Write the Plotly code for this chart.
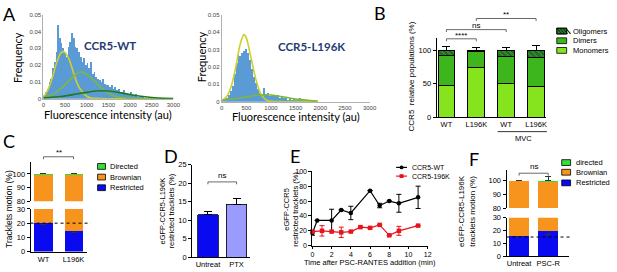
import plotly.graph_objects as go

W, H = 617, 272

# ---------------- DATA ----------------
# Panel A : histograms (bin width 40 au, first bin starts at 0) and fitted components
BIN_W = 40
wt_freq = [0.002, 0.004, 0.006, 0.010, 0.012, 0.018, 0.022, 0.028, 0.044, 0.036,
           0.033, 0.030, 0.027, 0.025, 0.031, 0.034, 0.039, 0.036, 0.031, 0.030,
           0.028, 0.025, 0.022, 0.024, 0.020, 0.021, 0.018, 0.022, 0.015, 0.016,
           0.013, 0.012, 0.011, 0.010, 0.012, 0.009, 0.008, 0.008, 0.007, 0.008,
           0.006, 0.007, 0.005, 0.006, 0.004, 0.004, 0.005, 0.003, 0.003, 0.003,
           0.004, 0.002, 0.002, 0.003, 0.001, 0.001, 0.001, 0.001, 0.0005, 0.0005]
l196k_freq = [0.001, 0.002, 0.002, 0.004, 0.006, 0.009, 0.016, 0.022, 0.027, 0.026,
              0.028, 0.029, 0.030, 0.028, 0.024, 0.019, 0.014, 0.011, 0.007, 0.005,
              0.004, 0.008, 0.004, 0.005, 0.003, 0.004, 0.003, 0.003, 0.004, 0.002,
              0.003, 0.002, 0.002, 0.001, 0.002, 0.001, 0.002, 0.001, 0.001, 0.002,
              0.001, 0.001, 0.001, 0.001, 0.001, 0.001, 0.001, 0.0005]

wt_fit1_x = [0, 100, 200, 300, 400, 450, 500, 600, 700, 800, 900, 1000, 1100, 1200, 1500, 2000, 2500, 3000]
wt_fit1_y = [0.001, 0.005, 0.012, 0.021, 0.027, 0.028, 0.0275, 0.023, 0.015, 0.008, 0.004, 0.0015, 0.0005, 0.0002, 0, 0, 0, 0]
wt_fit2_x = [0, 200, 400, 600, 800, 860, 1000, 1200, 1400, 1600, 1800, 2000, 2500, 3000]
wt_fit2_y = [0.001, 0.0023, 0.006, 0.011, 0.0155, 0.016, 0.0145, 0.010, 0.005, 0.002, 0.0007, 0.0002, 0, 0]
wt_fit3_x = [0, 400, 800, 1000, 1200, 1330, 1500, 1800, 2000, 2200, 2500, 2800, 3000]
wt_fit3_y = [0.0005, 0.0013, 0.003, 0.0038, 0.0046, 0.0048, 0.0046, 0.0035, 0.0025, 0.0016, 0.0007, 0.0002, 0.0001]

l196k_fit1_x = [0, 100, 200, 300, 350, 400, 450, 500, 550, 600, 700, 800, 900, 1000, 1200, 1500, 1950]
l196k_fit1_y = [0.0005, 0.003, 0.0095, 0.022, 0.030, 0.0355, 0.0385, 0.0365, 0.031, 0.0245, 0.012, 0.004, 0.001, 0.0002, 0, 0, 0]
l196k_fit2_x = [0, 300, 600, 850, 1000, 1200, 1400, 1600, 1800, 1950]
l196k_fit2_y = [0.0008, 0.0018, 0.0032, 0.0040, 0.0038, 0.0030, 0.0020, 0.0012, 0.0006, 0.0003]

a_xticks = [0, 500, 1000, 1500, 2000, 2500, 3000]
a_yticks = [0, 0.01, 0.02, 0.03, 0.04, 0.05]
a_yticktext = ["0", "0.01", "0.02", "0.03", "0.04", "0.05"]

# Panel B : relative populations (%)
b_labels = ["WT", "L196K", "WT", "L196K"]
b_monomers = [48, 75, 51, 46]
b_monomers_err = [10, 6, 11, 12]
b_dimers = [44, 24, 40, 44]
b_oligomers = [8, 1, 9, 10]
b_total_err = [6, 5, 5, 8]

# Panel C : tracklets motion (%)
c_labels = ["WT", "L196K"]
c_restricted = [20, 14.5]
c_restricted_err = [1, 1]
c_brownian = [79.5, 85.0]
c_directed = [0.5, 0.5]
c_directed_err = [0.3, 0.3]

# Panel D : restricted tracklets (%)
d_labels = ["Untreat", "PTX"]
d_values = [11.5, 14.3]
d_err = [0.9, 1.5]

# Panel E : restricted tracklets over time
e_wt_t = [0, 0.5, 2, 3, 4, 6, 7, 8, 9, 11]
e_wt_v = [17, 34, 34, 48, 44, 74, 54, 60, 57, 65]
e_wt_err = [3, 0, 15, 0, 9, 0, 3, 0, 12, 15]
e_mut_t = [0, 1, 2, 3, 4, 5, 6, 7, 8, 9, 11]
e_mut_v = [19, 20, 19, 18, 19, 25, 24, 28, 14, 20, 27]
e_mut_err = [0, 7, 0, 7, 0, 0, 0, 0, 0, 6, 0]

# Panel F : eGFP-CCR5-L196K tracklets motion (%)
f_labels = ["Untreat", "PSC-R"]
f_restricted = [15.5, 20]
f_restricted_err = [0.5, 3]
f_brownian = [84.0, 79.3]
f_directed = [0.5, 0.7]
f_directed_err = [0.3, 3]

# ---------------- STYLE / LAYOUT HELPERS ----------------
ARIAL = "Liberation Sans"
CAL = "Lato"
C_HIST = "#5B9BD5"
C_YEL = "#CFCF2A"
C_LGR = "#7DB83A"
C_DGR = "#1F7A1F"
C_MONO = "#86E41E"
C_DIM = "#3DB51C"
C_OLIG = "#2E8B2E"
C_RES = "#0A0AF0"
C_BRO = "#F7941D"
C_DIR = "#35E035"
C_PTX = "#9B9BFF"

# pixel boxes: (left, right, top, bottom, xrange, yrange)
BOX = {
    "A1": (42, 174, 11, 98, (0, 3000), (0, 0.05)),
    "A2": (223, 373, 11, 101, (0, 3000), (0, 0.05)),
    "B": (441, 552, 35, 117, (-0.33, 3.33), (0, 119)),
    "CL": (29, 86, 212, 256, (-0.43, 1.44), (0, 30)),
    "CU": (29, 86, 163, 204, (-0.43, 1.44), (80, 109)),
    "D": (193, 252, 166, 262, (-0.55, 1.48), (0, 25)),
    "E": (315, 432, 173, 250, (0, 12), (0, 100)),
    "FL": (512, 575, 221, 261, (-0.43, 1.7), (0, 30)),
    "FU": (512, 575, 172, 211, (-0.43, 1.7), (80, 107.5)),
}


def px(x):
    return x / W


def py(y):
    return 1 - y / H


def xdata_px(box, v):
    l, r, t, b, (r0, r1), _ = BOX[box]
    return l + (v - r0) / (r1 - r0) * (r - l)


def ydata_px(box, v):
    l, r, t, b, _, (r0, r1) = BOX[box]
    return b - (v - r0) / (r1 - r0) * (b - t)


def xdom(box):
    l, r = BOX[box][0], BOX[box][1]
    return [px(l), px(r)]


def ydom(box):
    t, b = BOX[box][2], BOX[box][3]
    return [py(b), py(t)]


def prism_axis(**kw):
    d = dict(showline=True, linecolor="black", linewidth=1, ticks="outside", ticklen=3,
             tickwidth=1, tickcolor="black", showgrid=False, zeroline=False,
             tickfont=dict(family=ARIAL, size=7.5, color="black"), fixedrange=True)
    d.update(kw)
    return d


fig = go.Figure()

# ---- Panel A ----
wt_x = [BIN_W * i + BIN_W / 2 for i in range(len(wt_freq))]
mut_x = [BIN_W * i + BIN_W / 2 for i in range(len(l196k_freq))]
fig.add_trace(go.Bar(x=wt_x, y=wt_freq, width=BIN_W, marker=dict(color=C_HIST, line=dict(width=0)),
                     xaxis="x", yaxis="y"))
for xs, ys, col in [(wt_fit1_x, wt_fit1_y, C_YEL), (wt_fit2_x, wt_fit2_y, C_LGR), (wt_fit3_x, wt_fit3_y, C_DGR)]:
    fig.add_trace(go.Scatter(x=xs, y=ys, mode="lines", line=dict(color=col, width=1.6, shape="spline", smoothing=0.8),
                             xaxis="x", yaxis="y"))
fig.add_trace(go.Bar(x=mut_x, y=l196k_freq, width=BIN_W, marker=dict(color=C_HIST, line=dict(width=0)),
                     xaxis="x2", yaxis="y2"))
for xs, ys, col in [(l196k_fit1_x, l196k_fit1_y, C_YEL), (l196k_fit2_x, l196k_fit2_y, C_LGR)]:
    fig.add_trace(go.Scatter(x=xs, y=ys, mode="lines", line=dict(color=col, width=1.6, shape="spline", smoothing=0.8),
                             xaxis="x2", yaxis="y2"))

# ---- Panel B ----
bx = list(range(len(b_labels)))
BW = 0.56
fig.add_trace(go.Bar(x=bx, y=b_monomers, width=BW, xaxis="x3", yaxis="y3",
                     marker=dict(color=C_MONO, line=dict(color="black", width=1)),
                     error_y=dict(type="data", array=b_monomers_err, arrayminus=[0] * 4, symmetric=False,
                                  color="black", thickness=1, width=4)))
fig.add_trace(go.Bar(x=bx, y=b_dimers, width=BW, xaxis="x3", yaxis="y3",
                     marker=dict(color=C_DIM, line=dict(color="black", width=1))))
fig.add_trace(go.Bar(x=bx, y=b_oligomers, width=BW, xaxis="x3", yaxis="y3",
                     marker=dict(color=C_OLIG, line=dict(color="black", width=1),
                                 pattern=dict(shape="\\", fgcolor="#0B3B0B", bgcolor=C_OLIG, size=4, solidity=0.45)),
                     error_y=dict(type="data", array=b_total_err, arrayminus=[0] * 4, symmetric=False,
                                  color="black", thickness=1, width=4)))


# ---- Panel C & F (broken axes) ----
def tracklet_bars(xa, ya, res, res_err, bro, dire, dire_err, bw):
    xs = list(range(len(res)))
    fig.add_trace(go.Bar(x=xs, y=res, width=bw, xaxis=xa, yaxis=ya,
                         marker=dict(color=C_RES, line=dict(width=0)),
                         error_y=dict(type="data", array=res_err, color="#333", thickness=1, width=3)))
    fig.add_trace(go.Bar(x=xs, y=bro, width=bw, xaxis=xa, yaxis=ya,
                         marker=dict(color=C_BRO, line=dict(width=0))))
    fig.add_trace(go.Bar(x=xs, y=dire, width=bw, xaxis=xa, yaxis=ya,
                         marker=dict(color=C_DIR, line=dict(width=0)),
                         error_y=dict(type="data", array=dire_err, arrayminus=[0] * len(dire), symmetric=False,
                                      color="#333", thickness=1, width=3)))


tracklet_bars("x4", "y4", c_restricted, c_restricted_err, c_brownian, c_directed, c_directed_err, 0.6)
tracklet_bars("x5", "y5", c_restricted, c_restricted_err, c_brownian, c_directed, c_directed_err, 0.6)
tracklet_bars("x8", "y8", f_restricted, f_restricted_err, f_brownian, f_directed, f_directed_err, 0.7)
tracklet_bars("x9", "y9", f_restricted, f_restricted_err, f_brownian, f_directed, f_directed_err, 0.7)

# ---- Panel D ----
fig.add_trace(go.Bar(x=list(range(len(d_labels))), y=d_values, width=0.72, xaxis="x6", yaxis="y6",
                     marker=dict(color=[C_RES, C_PTX], line=dict(color="black", width=0.8)),
                     error_y=dict(type="data", array=d_err, arrayminus=[0, 0], symmetric=False,
                                  color="black", thickness=1, width=4)))

# ---- Panel E ----
fig.add_trace(go.Scatter(x=e_wt_t, y=e_wt_v, mode="lines+markers", xaxis="x7", yaxis="y7", cliponaxis=False,
                         line=dict(color="black", width=1.2), marker=dict(color="black", size=4.5, symbol="circle"),
                         error_y=dict(type="data", array=e_wt_err, color="black", thickness=1, width=2.5)))
fig.add_trace(go.Scatter(x=e_mut_t, y=e_mut_v, mode="lines+markers", xaxis="x7", yaxis="y7", cliponaxis=False,
                         line=dict(color="#E8141B", width=1.2), marker=dict(color="#E8141B", size=4.5, symbol="square"),
                         error_y=dict(type="data", array=e_mut_err, color="#E8141B", thickness=1, width=2.5)))

# ---------------- AXES ----------------
a_common = dict(showgrid=False, zeroline=False, showline=True, linecolor="#b0b0b0", linewidth=1, ticks="",
                tickfont=dict(family=ARIAL, size=6, color="#444"), fixedrange=True)
lay = dict(
    xaxis=dict(domain=xdom("A1"), range=BOX["A1"][4], anchor="y", tickvals=a_xticks, **a_common),
    yaxis=dict(domain=ydom("A1"), range=BOX["A1"][5], anchor="x", tickvals=a_yticks, ticktext=a_yticktext, **a_common),
    xaxis2=dict(domain=xdom("A2"), range=BOX["A2"][4], anchor="y2", tickvals=a_xticks, **a_common),
    yaxis2=dict(domain=ydom("A2"), range=BOX["A2"][5], anchor="x2", tickvals=a_yticks, ticktext=a_yticktext, **a_common),
    xaxis3=prism_axis(domain=xdom("B"), range=BOX["B"][4], anchor="y3", tickvals=bx, ticktext=b_labels, ticks=""),
    yaxis3=prism_axis(domain=ydom("B"), range=BOX["B"][5], anchor="x3", tickvals=[0, 50, 100]),
    xaxis4=prism_axis(domain=xdom("CL"), range=BOX["CL"][4], anchor="y4", tickvals=[0, 1], ticktext=c_labels, ticks=""),
    yaxis4=prism_axis(domain=ydom("CL"), range=BOX["CL"][5], anchor="x4", tickvals=[0, 10, 20, 30]),
    xaxis5=dict(domain=xdom("CU"), range=BOX["CU"][4], anchor="y5", visible=False, fixedrange=True),
    yaxis5=prism_axis(domain=ydom("CU"), range=BOX["CU"][5], anchor="x5", tickvals=[80, 90, 100]),
    xaxis6=prism_axis(domain=xdom("D"), range=BOX["D"][4], anchor="y6", tickvals=[0, 1], ticktext=d_labels, ticks=""),
    yaxis6=prism_axis(domain=ydom("D"), range=BOX["D"][5], anchor="x6", tickvals=[0, 5, 10, 15, 20, 25]),
    xaxis7=prism_axis(domain=xdom("E"), range=BOX["E"][4], anchor="y7", tickvals=[0, 2, 4, 6, 8, 10, 12],
                      ticklen=2, tickfont=dict(family=ARIAL, size=7, color="black")),
    yaxis7=prism_axis(domain=ydom("E"), range=BOX["E"][5], anchor="x7", tickvals=[0, 20, 40, 60, 80, 100],
                      tickfont=dict(family=ARIAL, size=7, color="black")),
    xaxis8=prism_axis(domain=xdom("FL"), range=BOX["FL"][4], anchor="y8", tickvals=[0, 1], ticktext=f_labels, ticks=""),
    yaxis8=prism_axis(domain=ydom("FL"), range=BOX["FL"][5], anchor="x8", tickvals=[0, 10, 20, 30]),
    xaxis9=dict(domain=xdom("FU"), range=BOX["FU"][4], anchor="y9", visible=False, fixedrange=True),
    yaxis9=prism_axis(domain=ydom("FU"), range=BOX["FU"][5], anchor="x9", tickvals=[80, 90, 100]),
)

# ---------------- ANNOTATIONS & SHAPES ----------------
ann = []
shapes = []


def text(x, y, s, size=8, family=ARIAL, color="black", angle=0, xanchor="center", bold=False):
    if bold:
        s = "<b>" + s + "</b>"
    ann.append(dict(x=px(x), y=py(y), xref="paper", yref="paper", text=s, showarrow=False,
                    font=dict(family=family, size=size, color=color), textangle=angle,
                    xanchor=xanchor, yanchor="middle"))


def line(x0, y0, x1, y1, color="black", width=1, dash=None):
    d = dict(type="line", xref="paper", yref="paper", x0=px(x0), y0=py(y0), x1=px(x1), y1=py(y1),
             line=dict(color=color, width=width))
    if dash:
        d["line"]["dash"] = dash
    shapes.append(d)


def rect(x0, y0, x1, y1, fill, lw=0.8):
    shapes.append(dict(type="rect", xref="paper", yref="paper", x0=px(x0), y0=py(y0), x1=px(x1), y1=py(y1),
                       fillcolor=fill, line=dict(color="black", width=lw)))


def bracket(box, a, b, ypix, label, ty, drop=2.5, size=8):
    xa, xb = xdata_px(box, a), xdata_px(box, b)
    line(xa, ypix, xb, ypix, color="#444", width=0.8)
    line(xa, ypix, xa, ypix + drop, color="#444", width=0.8)
    line(xb, ypix, xb, ypix + drop, color="#444", width=0.8)
    text((xa + xb) / 2, ty, label, size=size)


# panel letters
for lx, ly, s in [(8, 10, "A"), (384, 9, "B"), (7, 142, "C"), (172, 157, "D"), (297, 157, "E"), (479, 160, "F")]:
    text(lx, ly, s, size=18, family=CAL)

# Panel A texts
text(15, 55, "Frequency", size=11, family=CAL, angle=-90)
text(108, 114, "Fluorescence intensity (au)", size=11, family=CAL)
text(110, 43, "CCR5-WT", size=11.5, family=CAL, color="#1F3C74", bold=True)
text(202, 55, "Frequency", size=11, family=CAL, angle=-90)
text(298, 116, "Fluorescence intensity (au)", size=11, family=CAL)
text(314, 44, "CCR5-L196K", size=11.5, family=CAL, color="#1F3C74", bold=True)

# Panel B texts
text(416, 75, "CCR5  relative populations (%)", size=8, angle=-90)
bracket("B", 0, 1, 36, "****", 32.5)
bracket("B", 0, 2, 26.5, "ns", 22.5)
bracket("B", 1, 3, 15, "**", 11)
line(503, 132, 553, 132, width=0.8)
text(529, 139, "MVC", size=7.5)
rect(563, 25, 573, 31, C_OLIG)
for k in range(4):
    line(563 + 3 * k, 25, 563 + 3 * k + 5, 31, color="#0B3B0B", width=1.2)
rect(563, 25, 573, 31, "rgba(0,0,0,0)")
rect(563, 35, 573, 41, C_DIM)
rect(563, 45, 573, 51, C_MONO)
text(577, 28, "Oligomers", size=7.5, xanchor="left")
text(577, 38, "Dimers", size=7.5, xanchor="left")
text(577, 48, "Monomers", size=7.5, xanchor="left")

# Panel C texts
text(7, 212, "Tracklets motion (%)", size=8.5, angle=-90)
bracket("CL", 0, 1, 158, "**", 154)
line(BOX["CL"][0], ydata_px("CL", 20), 90, ydata_px("CL", 20), width=1, dash="dot")
rect(97, 165, 105, 171, C_DIR)
rect(97, 176, 105, 182, C_BRO)
rect(97, 187, 105, 193, C_RES)
text(108, 168, "Directed", size=7.5, xanchor="left")
text(108, 179, "Brownian", size=7.5, xanchor="left")
text(108, 190, "Restricted", size=7.5, xanchor="left")

# Panel D texts
text(168, 214, "eGFP-CCR5-L196K<br>restricted tracklets (%)", size=7.5, angle=-90)
bracket("D", 0, 1, 184, "ns", 177.5)

# Panel E texts
text(294, 212, "eGFP-CCR5<br>restricted tracklets (%)", size=7.5, angle=-90)
text(373, 267.5, "Time after PSC-RANTES addition (min)", size=7.5)
line(400, 169, 411, 169, width=1.2)
shapes.append(dict(type="circle", xref="paper", yref="paper", x0=px(403.5), x1=px(407.5), y0=py(171), y1=py(167),
                   fillcolor="black", line=dict(width=0)))
text(414, 169, "CCR5-WT", size=7, xanchor="left")
line(400, 178, 411, 178, color="#E8141B", width=1.2)
rect(403.5, 176, 407.5, 180, "#E8141B", lw=0)
text(414, 178, "CCR5-196K", size=7, xanchor="left")

# Panel F texts
text(472, 214, "eGFP-CCR5-L196K<br>tracklets motion (%)", size=8, angle=-90)
bracket("FL", 0, 1, 175, "ns", 168)
line(BOX["FL"][0], ydata_px("FL", 15), 576, ydata_px("FL", 15), width=1, dash="dot")
rect(568, 161, 577, 167, C_DIR)
rect(568, 171, 577, 177, C_BRO)
rect(568, 182, 577, 188, C_RES)
text(580, 164, "directed", size=7.5, xanchor="left")
text(580, 174, "Brownian", size=7.5, xanchor="left")
text(580, 185, "Restricted", size=7.5, xanchor="left")

fig.update_layout(
    width=W, height=H, autosize=False, margin=dict(l=0, r=0, t=0, b=0),
    paper_bgcolor="white", plot_bgcolor="white", showlegend=False,
    barmode="stack", bargap=0, annotations=ann, shapes=shapes, **lay,
)

fig.write_html("out.html", config={"displayModeBar": False, "staticPlot": True},
               post_script="document.body.style.margin='0';document.body.style.overflow='hidden';")
